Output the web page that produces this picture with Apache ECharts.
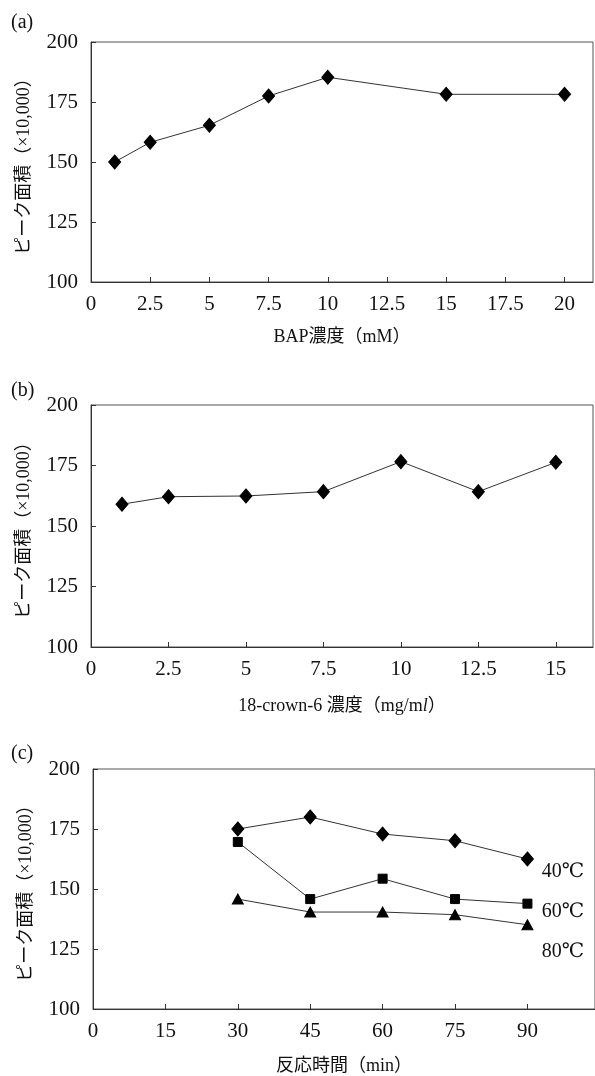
<!DOCTYPE html>
<html>
<head>
<meta charset="utf-8">
<script src="https://cdn.jsdelivr.net/npm/echarts@6/dist/echarts.min.js"></script>
<style>
  html, body { margin: 0; padding: 0; background: #fff; }
  #chart { width: 595px; height: 1076px; }
</style>
</head>
<body>
<div id="chart"></div>
<script>
// (a) BAP濃度 vs ピーク面積
const bapConc = [1, 2.5, 5, 7.5, 10, 15, 20];
const bapArea = [150, 158.2, 165.3, 177.5, 185.3, 178.2, 178.2];

// (b) 18-crown-6 濃度 vs ピーク面積
const crownConc = [1, 2.5, 5, 7.5, 10, 12.5, 15];
const crownArea = [159, 162.1, 162.4, 164.2, 176.6, 164.2, 176.3];

// (c) 反応時間 vs ピーク面積 (温度別)
const reactTime = [30, 45, 60, 75, 90];
const area40 = [175, 180, 172.9, 170.1, 162.5];
const area60 = [169.6, 145.8, 154.3, 145.8, 143.9];
const area80 = [145.8, 140.4, 140.4, 139.3, 135.1];
const tempNames = ['40℃', '60℃', '80℃'];

// 縦軸の目盛り
const yTicks = [100, 125, 150, 175, 200];

const chart = echarts.init(document.getElementById('chart'));

const FONT = "'Liberation Serif', 'DejaVu Serif', 'Noto Sans CJK JP', serif";
const INK = '#111';

const pairs = (xs, ys) => xs.map((x, i) => [x, ys[i]]);

// 共通の縦軸設定
const makeY = (gridIndex) => ({
    type: 'value',
    gridIndex: gridIndex,
    min: yTicks[0],
    max: yTicks[yTicks.length - 1],
    interval: yTicks[1] - yTicks[0],
    name: 'ピーク面積（×10,000）',
    nameLocation: 'middle',
    nameGap: 58,
    nameTextStyle: { fontFamily: FONT, fontSize: 18, color: INK },
    axisLine: { show: true, lineStyle: { color: '#333', width: 1 } },
    axisTick: { show: true, inside: true, length: 5, lineStyle: { color: '#333' } },
    axisLabel: { fontFamily: FONT, fontSize: 21, color: INK, margin: 13 },
    splitLine: { show: false }
});

// 共通の横軸設定
const makeX = (gridIndex, max, interval, name, gap) => ({
    type: 'value',
    gridIndex: gridIndex,
    min: 0,
    max: max,
    interval: interval,
    name: name,
    nameLocation: 'middle',
    nameGap: gap,
    nameTextStyle: {
        fontFamily: FONT, fontSize: 18, color: INK,
        rich: { i: { fontFamily: FONT, fontSize: 18, fontStyle: 'italic', color: INK } }
    },
    axisLine: { show: true, lineStyle: { color: '#333', width: 1 } },
    axisTick: { show: true, inside: true, length: 5, lineStyle: { color: '#333' } },
    axisLabel: { fontFamily: FONT, fontSize: 21, color: INK, margin: 12, showMaxLabel: false },
    splitLine: { show: false }
});

const lineSeries = (name, xi, data, symbol, size) => ({
    name: name,
    type: 'line',
    xAxisIndex: xi,
    yAxisIndex: xi,
    data: data,
    symbol: symbol,
    symbolSize: size,
    showAllSymbol: true,
    itemStyle: { color: '#000', borderColor: '#000' },
    lineStyle: { color: '#333', width: 1 },
    emphasis: { disabled: true },
    animation: false
});

const titleStyle = { fontFamily: FONT, fontSize: 20, fontWeight: 'normal', color: INK };

const option = {
    backgroundColor: '#fff',
    animation: false,
    title: [
        { text: '(a)', left: 6, top: 8, textStyle: titleStyle },
        { text: '(b)', left: 6, top: 376, textStyle: titleStyle },
        { text: '(c)', left: 6, top: 739, textStyle: titleStyle }
    ],
    grid: [
        { left: 91, top: 42, right: 2, height: 240, show: true, borderColor: '#555', borderWidth: 1 },
        { left: 91, top: 405, right: 2, height: 242, show: true, borderColor: '#555', borderWidth: 1 },
        { left: 93, top: 769, right: 0, height: 240, show: true, borderColor: '#555', borderWidth: 1 }
    ],
    xAxis: [
        makeX(0, 21.2, 2.5, 'BAP濃度（mM）', 46),
        makeX(1, 16.2, 2.5, '18-crown-6 濃度（mg/m{i|l}）', 50),
        makeX(2, 104, 15, '反応時間（min）', 48)
    ],
    yAxis: [makeY(0), makeY(1), makeY(2)],
    legend: {
        data: tempNames,
        orient: 'vertical',
        right: 6,
        top: 857,
        align: 'left',
        icon: 'none',
        itemWidth: 0,
        itemHeight: 0,
        itemGap: 20,
        selectedMode: false,
        textStyle: { fontFamily: FONT, fontSize: 20, color: INK, padding: 0 }
    },
    series: [
        lineSeries('BAP', 0, pairs(bapConc, bapArea), 'diamond', [12, 14]),
        lineSeries('18-crown-6', 1, pairs(crownConc, crownArea), 'diamond', [12, 14]),
        lineSeries(tempNames[0], 2, pairs(reactTime, area40), 'diamond', [12, 14]),
        lineSeries(tempNames[1], 2, pairs(reactTime, area60), 'rect', 9),
        lineSeries(tempNames[2], 2, pairs(reactTime, area80), 'triangle', [11, 10])
    ]
};

chart.setOption(option);
</script>
</body>
</html>
